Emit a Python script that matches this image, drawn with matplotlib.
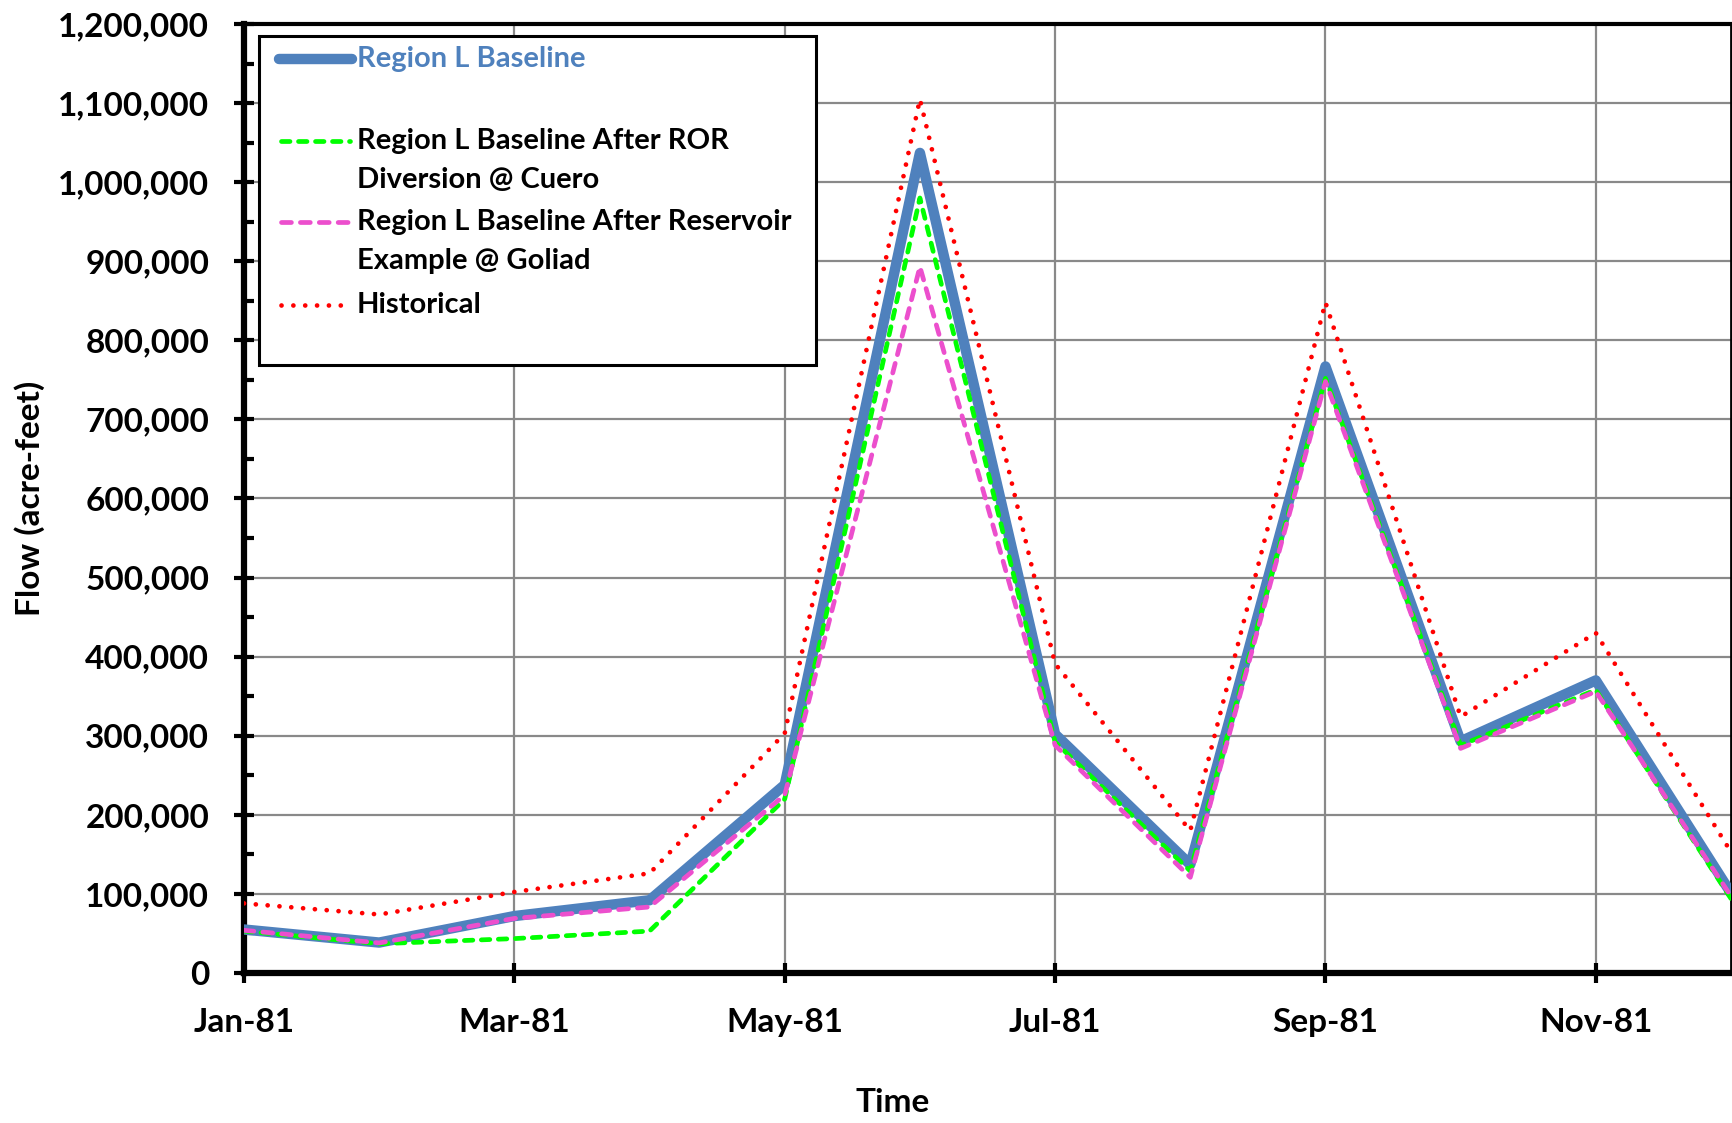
import matplotlib
matplotlib.use("Agg")
import matplotlib.pyplot as plt
from matplotlib.lines import Line2D
from matplotlib.patches import Rectangle
from matplotlib.ticker import FuncFormatter, MultipleLocator, FixedLocator

# Monthly flow, 1981 (acre-feet)
months = ["Jan-81", "Feb-81", "Mar-81", "Apr-81", "May-81", "Jun-81",
          "Jul-81", "Aug-81", "Sep-81", "Oct-81", "Nov-81", "Dec-81"]
baseline = [55000, 38500, 72000, 92000, 238000, 1037000,
            302000, 137000, 767000, 293000, 370000, 101000]
after_ror = [53000, 37000, 43500, 53000, 220000, 980000,
             292000, 129000, 752000, 288000, 358000, 94000]
after_reservoir = [54000, 38000, 69000, 83500, 225000, 893000,
                   288000, 121000, 748000, 284000, 356000, 97000]
historical = [88000, 74000, 102500, 126000, 303000, 1105000,
              391000, 180000, 848000, 324000, 430000, 153000]

tick_labels = ["Jan-81", "Mar-81", "May-81", "Jul-81", "Sep-81", "Nov-81"]

series_labels = ["Region L Baseline",
                 "Region L Baseline After ROR\nDiversion @ Cuero",
                 "Region L Baseline After Reservoir\nExample @ Goliad",
                 "Historical"]

plt.rcParams["font.family"] = ["Lato", "DejaVu Sans"]
plt.rcParams["font.weight"] = "bold"

W, H = 1733, 1123
fig = plt.figure(figsize=(W / 100, H / 100), dpi=100)
ax = fig.add_axes([244 / W, 1 - 973 / H, (1731 - 244) / W, (973 - 24) / H])

x = list(range(len(months)))

blue = "#4F81BD"
styles = [
    dict(color=blue, lw=7.5, solid_capstyle="round", solid_joinstyle="round", zorder=3),
    dict(color="#00FF00", lw=3.4, linestyle=(0, (1.8, 1.8)), dash_capstyle="round", zorder=4),
    dict(color="#EC4FCD", lw=3.4, linestyle=(0, (2.1, 1.9)), dash_capstyle="round", zorder=5),
    dict(color="#FF0000", lw=3.4, linestyle=(0, (0.01, 2.5)), dash_capstyle="round", zorder=6),
]
for values, st in zip([baseline, after_ror, after_reservoir, historical], styles):
    ax.plot(x, values, **st)

ax.set_xlim(0, len(months) - 1)
ax.set_ylim(0, 1200000)

tick_pos = [months.index(m) for m in tick_labels]
ax.xaxis.set_major_locator(FixedLocator(tick_pos))
ax.set_xticklabels(tick_labels)
ax.yaxis.set_major_locator(MultipleLocator(100000))
ax.yaxis.set_minor_locator(MultipleLocator(50000))
ax.yaxis.set_major_formatter(FuncFormatter(lambda v, p: f"{v:,.0f}"))

ax.tick_params(axis="both", which="major", direction="inout", length=14,
               width=3, labelsize=24, pad=18, colors="black")
ax.tick_params(axis="y", which="minor", direction="in", length=7, width=3)
ax.tick_params(axis="x", which="minor", length=0)
for lab in ax.get_xticklabels() + ax.get_yticklabels():
    lab.set_fontweight("bold")

ax.grid(True, which="major", color="#898989", lw=1.6)
ax.set_axisbelow(True)

ax.spines["left"].set_linewidth(4.5)
ax.spines["bottom"].set_linewidth(4.5)
ax.spines["top"].set_linewidth(3)
ax.spines["right"].set_linewidth(2)

fig.text(893 / W, 1 - 1102 / H, "Time", ha="center", va="center",
         fontsize=24, fontweight="bold")
fig.text(30 / W, 1 - 498 / H, "Flow (acre-feet)", rotation=90,
         ha="center", va="center", fontsize=24, fontweight="bold")

# Legend box drawn in axes coordinates
def ax_x(px):
    return (px - 244) / (1731 - 244)

def ax_y(py):
    return (973 - py) / (973 - 24)

ax.add_patch(Rectangle((ax_x(259), ax_y(365)), ax_x(816) - ax_x(259),
                       ax_y(36) - ax_y(365), transform=ax.transAxes,
                       facecolor="white", edgecolor="black", lw=2.2,
                       zorder=10, clip_on=False))

entry_y = [59, 141, 222, 305]
handle_x = [(279, 352), (281, 350), (281, 350), (281, 341)]
text_colors = [blue, "black", "black", "black"]
line_gap = 38.7
for label, st, ey, (hx0, hx1), tc in zip(series_labels, styles, entry_y,
                                         handle_x, text_colors):
    kw = {k: v for k, v in st.items() if k != "zorder"}
    ax.add_line(Line2D([ax_x(hx0), ax_x(hx1)], [ax_y(ey), ax_y(ey)],
                       transform=ax.transAxes, zorder=11, clip_on=False, **kw))
    for i, part in enumerate(label.split("\n")):
        ax.text(ax_x(357), ax_y(ey + i * line_gap), part, transform=ax.transAxes,
                ha="left", va="center", fontsize=21, fontweight="bold",
                color=tc, zorder=12)

fig.savefig("out.png", dpi=100)
